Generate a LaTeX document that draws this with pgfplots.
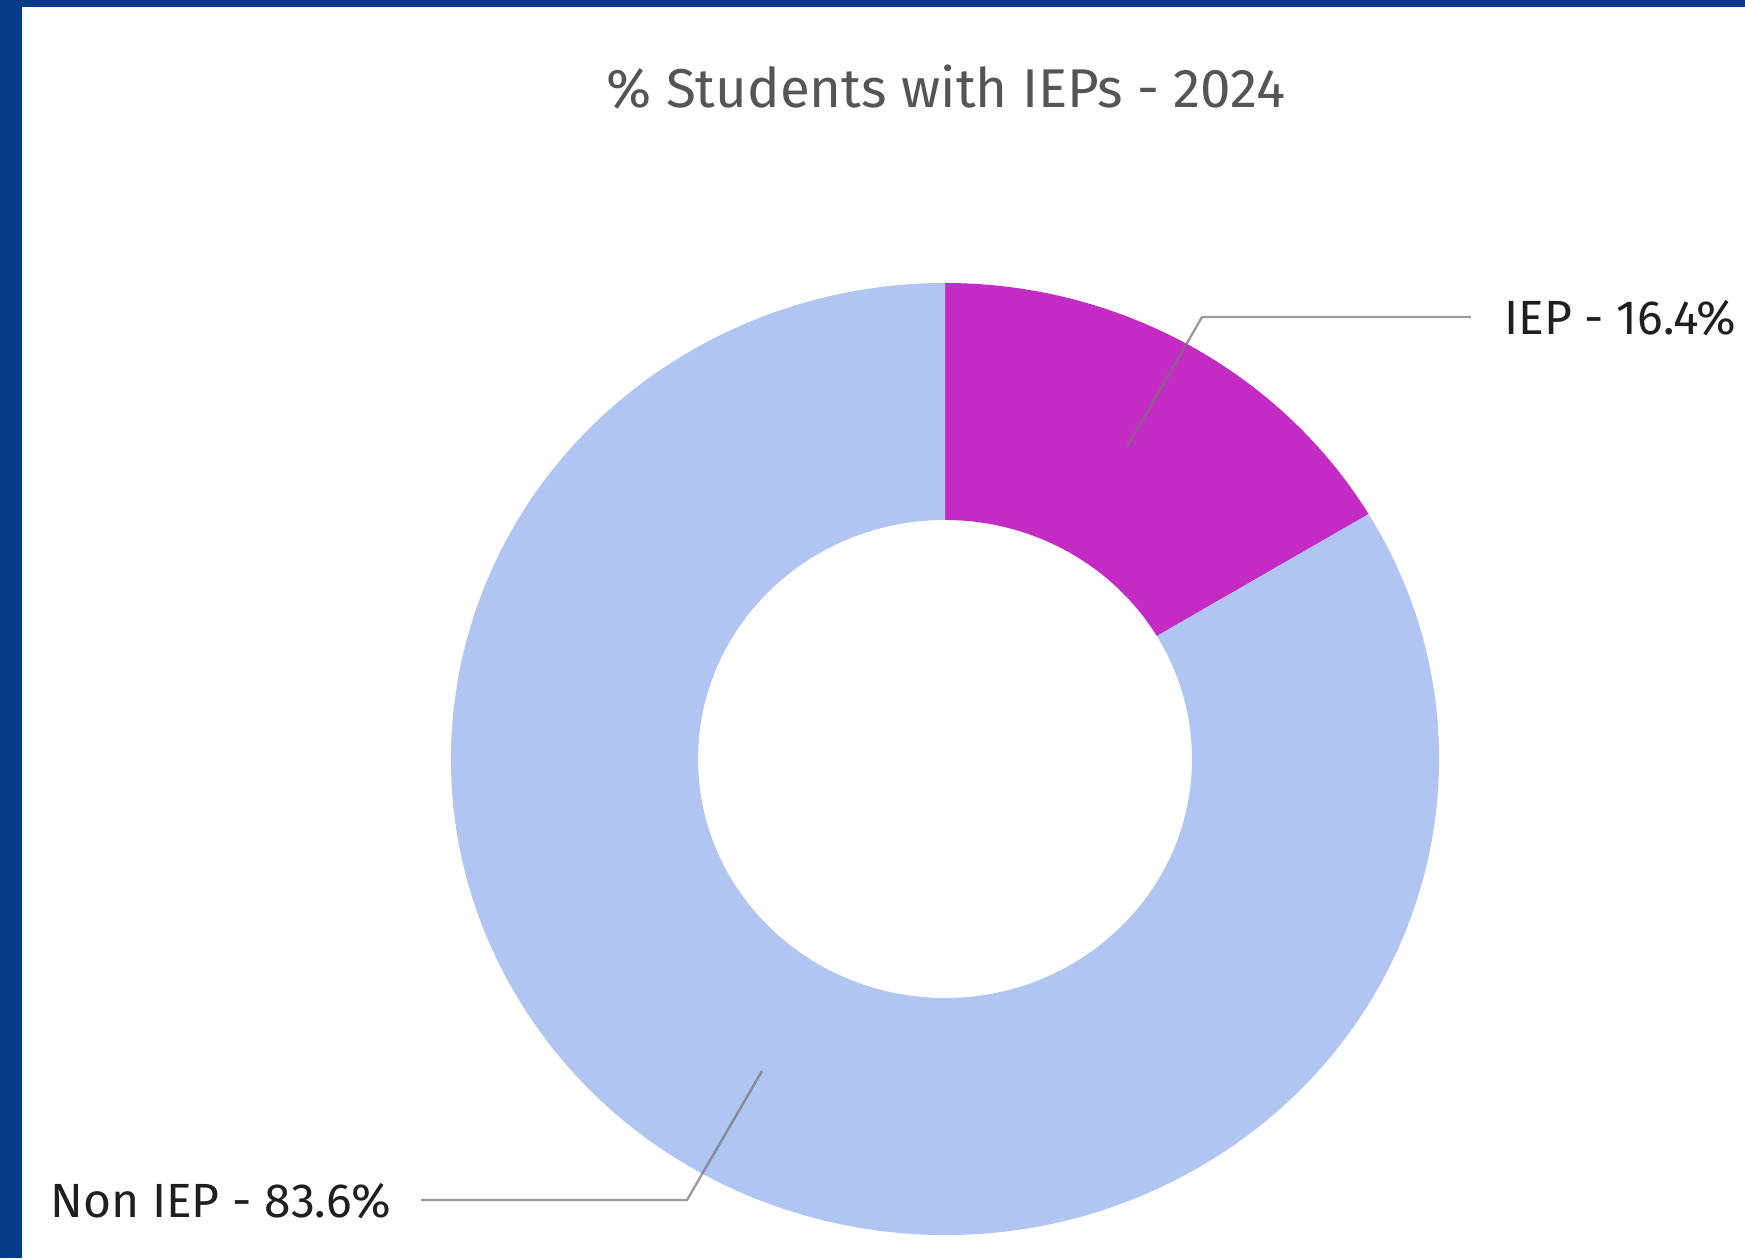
\documentclass[border=0pt]{standalone}
\usepackage{pgfplots}
\pgfplotsset{compat=1.18}
\usetikzlibrary{calc}
\usepackage{fontspec}
\setmainfont{Fira Sans}
\definecolor{border}{HTML}{033D8A}
\definecolor{iep}{HTML}{C42BC4}
\definecolor{noniep}{HTML}{B0C5F2}
\definecolor{titlegray}{HTML}{555555}
\definecolor{lead}{RGB}{115,115,115}
\begin{document}
\begin{tikzpicture}
\begin{axis}[x=0.5pt, y=0.5pt, xmin=0, xmax=1745, ymin=0, ymax=1258,
  hide axis, clip=false]
% data
\def\iepval{16.4}
\def\noniepval{83.6}
\pgfmathsetmacro\angA{90}
\pgfmathsetmacro\angB{90-3.6*\iepval}
\pgfmathsetmacro\angC{\angB-3.6*\noniepval}
% background and frame
\fill[white] (axis cs:0,0) rectangle (axis cs:1745,1258);
\fill[border] (axis cs:0,0) rectangle (axis cs:22,1258);
\fill[border] (axis cs:0,1251) rectangle (axis cs:1745,1258);
% slices
\fill[iep] ($(axis cs:945,499)+(\angA:247pt and 238pt)$)
  arc[start angle=\angA, end angle=\angB, x radius=247pt, y radius=238pt]
  -- ($(axis cs:945,499)+(\angB:123.5pt and 119.5pt)$)
  arc[start angle=\angB, end angle=\angA, x radius=123.5pt, y radius=119.5pt] -- cycle;
\fill[noniep] ($(axis cs:945,499)+(\angB:247pt and 238pt)$)
  arc[start angle=\angB, end angle=\angC, x radius=247pt, y radius=238pt]
  -- ($(axis cs:945,499)+(\angC:123.5pt and 119.5pt)$)
  arc[start angle=\angC, end angle=\angB, x radius=123.5pt, y radius=119.5pt] -- cycle;
% leader lines
\draw[lead, opacity=0.7, line width=1.2pt] (axis cs:1127,811) -- (axis cs:1202,941) -- (axis cs:1471,941);
\draw[lead, opacity=0.7, line width=1.2pt] (axis cs:762,187) -- (axis cs:687,58) -- (axis cs:421,58);
% labels
\node[anchor=base west, inner sep=0pt, text=black!88, font=\fontsize{24}{28}\selectfont] at (axis cs:1504,923) {IEP - 16.4\%};
\node[anchor=base west, inner sep=0pt, text=black!88, font=\fontsize{24}{28}\selectfont] at (axis cs:50,41) {Non IEP - 83.6\%};
\node[anchor=center, inner sep=0pt, text=titlegray, font=\fontsize{27.3}{32}\selectfont] at (axis cs:946,1171) {\% Students with IEPs - 2024};
\end{axis}
\pgfresetboundingbox
\path (current axis.south west) rectangle (current axis.north east);
\end{tikzpicture}
\end{document}
